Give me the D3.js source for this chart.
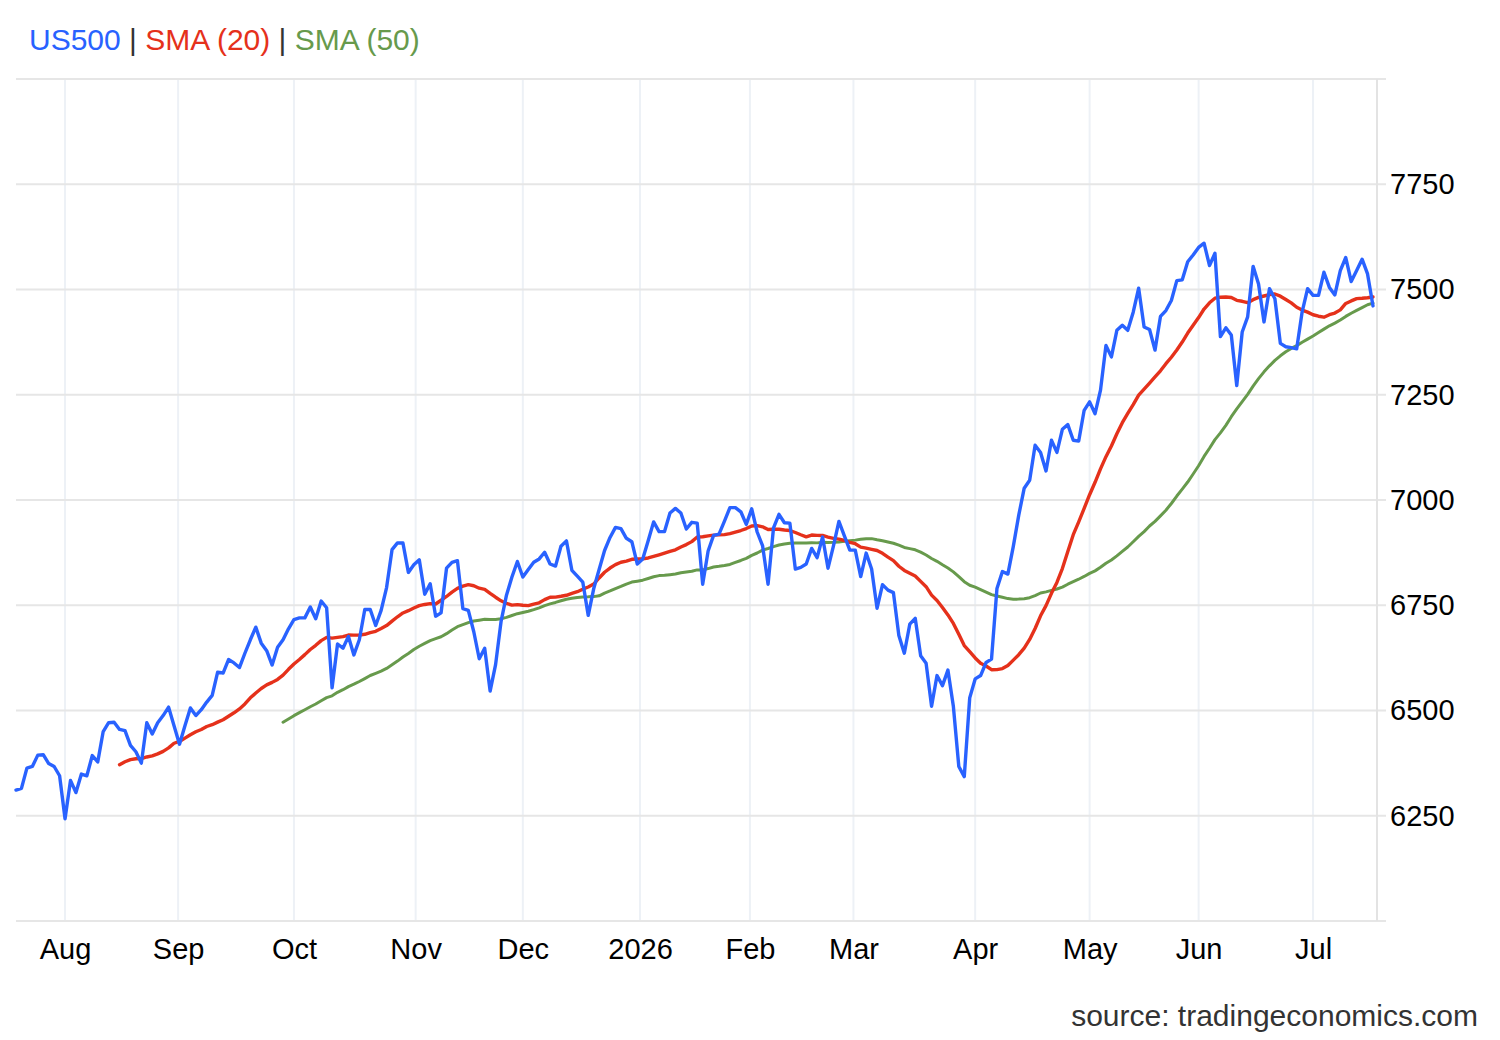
<!DOCTYPE html>
<html>
<head>
<meta charset="utf-8">
<script src="https://cdn.jsdelivr.net/npm/d3@7"></script>
<style>
  body { margin: 0; background: #fff; }
  svg { display: block; }
  text { font-family: "Liberation Sans", Arial, sans-serif; }
</style>
</head>
<body>
<svg id="chart"></svg>
<script>
// Daily closes, first point is 2025-07-21
const us500 = [
  6311, 6315, 6363, 6367, 6394, 6395, 6374, 6367, 6345, 6243,
  6334, 6305, 6349, 6345, 6393, 6378, 6450, 6471, 6472, 6455,
  6452, 6417, 6402, 6375, 6471, 6444, 6471, 6488, 6508, 6464,
  6420, 6464, 6506, 6488, 6502, 6520, 6536, 6591, 6589, 6621,
  6613, 6602, 6636, 6668, 6698, 6660, 6642, 6608, 6650, 6668,
  6694, 6716, 6720, 6720, 6746, 6718, 6760, 6744, 6554, 6658,
  6648, 6676, 6632, 6668, 6740, 6740, 6702, 6738, 6792, 6882,
  6898, 6898, 6828, 6846, 6858, 6776, 6801, 6724, 6732, 6838,
  6852, 6856, 6742, 6738, 6687, 6623, 6648, 6546, 6609, 6711,
  6774, 6817, 6854, 6817, 6835, 6852, 6860, 6876, 6848, 6843,
  6890, 6903, 6833, 6819, 6805, 6726, 6789, 6835, 6880, 6911,
  6935, 6932, 6909, 6901, 6848, 6860, 6903, 6948, 6925, 6925,
  6969, 6980, 6969, 6931, 6947, 6945, 6800, 6879, 6916, 6919,
  6950, 6982, 6982, 6972, 6942, 6979, 6924, 6891, 6800, 6934,
  6966, 6946, 6945, 6836, 6840, 6848, 6885, 6863, 6912, 6838,
  6891, 6949, 6915, 6881, 6881, 6818, 6874, 6836, 6743, 6799,
  6786, 6780, 6678, 6636, 6705, 6719, 6630, 6612, 6510, 6583,
  6559, 6596, 6510, 6367, 6343, 6530, 6575, 6583, 6614, 6622,
  6790, 6830, 6824, 6890, 6964, 7028, 7047, 7130, 7113, 7069,
  7142, 7113, 7168, 7179, 7142, 7140, 7213, 7233, 7205, 7261,
  7367, 7340, 7403, 7415, 7403, 7446, 7503, 7411, 7405, 7356,
  7436, 7450, 7474, 7521, 7523, 7566, 7582, 7600, 7610, 7557,
  7586, 7388, 7409, 7392, 7272, 7399, 7435, 7555, 7513, 7423,
  7502, 7478, 7372, 7364, 7362, 7359, 7447, 7502, 7486, 7486,
  7541, 7505, 7487, 7545, 7576, 7519, 7545, 7572, 7537, 7461
];

// Market holidays inside the range (no points on these days)
const holidays = ["2025-09-01", "2025-11-27", "2025-12-25", "2026-01-01", "2026-01-19",
                  "2026-02-16", "2026-04-03", "2026-05-25", "2026-06-19", "2026-07-03"];
const firstDay = "2025-07-21";

// Month ticks on the x axis
const monthStarts = ["2025-08-01", "2025-09-01", "2025-10-01", "2025-11-01", "2025-12-01", "2026-01-01",
                     "2026-02-01", "2026-03-01", "2026-04-01", "2026-05-01", "2026-06-01", "2026-07-01"];
const monthLabels = ["Aug", "Sep", "Oct", "Nov", "Dec", "2026", "Feb", "Mar", "Apr", "May", "Jun", "Jul"];

const yGrid = [6000, 6250, 6500, 6750, 7000, 7250, 7500, 7750, 8000];
const yLabels = [6250, 6500, 6750, 7000, 7250, 7500, 7750];

const colors = {us500: "#2962ff", sma20: "#e5311b", sma50: "#679a4c"};

// Build the list of trading days that the points sit on
const parse = d3.utcParse("%Y-%m-%d");
const holidaySet = new Set(holidays);
let dates = [];
for (let d = parse(firstDay); dates.length < us500.length; d = d3.utcDay.offset(d, 1)) {
    let dow = d.getUTCDay();
    if (dow === 0 || dow === 6) continue;
    if (holidaySet.has(d3.utcFormat("%Y-%m-%d")(d))) continue;
    dates.push(d);
}

// Position of a calendar date on the ordinal (trading day) axis
function ordinalPos(date) {
    let k = d3.bisectLeft(dates, date);
    if (k <= 0) return 0;
    if (+dates[k] === +date) return k;
    let a = dates[k - 1], b = dates[k];
    return k - 1 + (date - a) / (b - a);
}

function sma(values, n) {
    return values.map((v, i) => i < n - 1 ? null : d3.mean(values.slice(i - n + 1, i + 1)));
}

const series = [
    {key: "sma50", values: sma(us500, 50), width: 3},
    {key: "sma20", values: sma(us500, 20), width: 3.4},
    {key: "us500", values: us500, width: 3.4}
];

// Set dimensions and margins of the graph
let margin = {top: 79, right: 123, bottom: 119, left: 16},
    width = 1500 - margin.left - margin.right,
    height = 1040 - margin.top - margin.bottom;

let x = d3.scaleLinear().domain([0, us500.length - 1]).range([0, width - 4]);
let y = d3.scaleLinear().domain([6000, 8000]).range([height, 0]);

let root = d3.select("#chart")
    .attr("width", width + margin.left + margin.right)
    .attr("height", height + margin.top + margin.bottom);

let svg = root.append("g")
    .attr("transform", "translate(" + margin.left + "," + margin.top + ")");

const monthPos = monthStarts.map(s => ordinalPos(parse(s)));

// Vertical grid at month starts
svg.append("g").selectAll("line")
    .data(monthPos)
    .enter().append("line")
    .attr("x1", d => x(d)).attr("x2", d => x(d))
    .attr("y1", 0).attr("y2", height)
    .attr("stroke", "#edf1f6").attr("stroke-width", 2);

// Horizontal grid
svg.append("g").selectAll("line")
    .data(yGrid)
    .enter().append("line")
    .attr("x1", 0).attr("x2", width + 9)
    .attr("y1", d => y(d)).attr("y2", d => y(d))
    .attr("stroke", "#e6e6e6").attr("stroke-width", 2);

// Right axis line
svg.append("line")
    .attr("x1", width).attr("x2", width)
    .attr("y1", 0).attr("y2", height)
    .attr("stroke", "#e3e3e3").attr("stroke-width", 2);

// Lines
let line = d3.line()
    .defined(d => d != null)
    .x((d, i) => x(i))
    .y(d => y(d));

svg.selectAll(".line")
    .data(series)
    .enter().append("path")
    .attr("class", "line")
    .attr("fill", "none")
    .attr("stroke", d => colors[d.key])
    .attr("stroke-width", d => d.width)
    .attr("stroke-linejoin", "round")
    .attr("stroke-linecap", "round")
    .attr("d", d => line(d.values));

// x axis labels
let xAxis = svg.append("g")
    .attr("transform", "translate(0," + height + ")")
    .call(d3.axisBottom(x).tickValues(monthPos).tickSize(0).tickPadding(17)
        .tickFormat((d, i) => monthLabels[i]));
xAxis.select(".domain").remove();
xAxis.selectAll("text").attr("font-size", 29).attr("fill", "#000")
    .attr("font-family", "'Liberation Sans', Arial, sans-serif");

// y axis labels on the right
let yAxis = svg.append("g")
    .attr("transform", "translate(" + width + ",0)")
    .call(d3.axisRight(y).tickValues(yLabels).tickSize(0).tickPadding(13)
        .tickFormat(d3.format("d")));
yAxis.select(".domain").remove();
yAxis.selectAll("text").attr("font-size", 29).attr("fill", "#000")
    .attr("font-family", "'Liberation Sans', Arial, sans-serif");

// Legend
let legend = root.append("text")
    .attr("x", 29).attr("y", 50)
    .attr("font-size", 30);
legend.append("tspan").attr("fill", colors.us500).text("US500");
legend.append("tspan").attr("fill", "#333").text(" | ");
legend.append("tspan").attr("fill", colors.sma20).text("SMA (20)");
legend.append("tspan").attr("fill", "#333").text(" | ");
legend.append("tspan").attr("fill", colors.sma50).text("SMA (50)");

// Source
root.append("text")
    .attr("x", 1478).attr("y", 1026)
    .attr("text-anchor", "end")
    .attr("font-size", 30)
    .attr("fill", "#333")
    .text("source: tradingeconomics.com");
</script>
</body>
</html>
